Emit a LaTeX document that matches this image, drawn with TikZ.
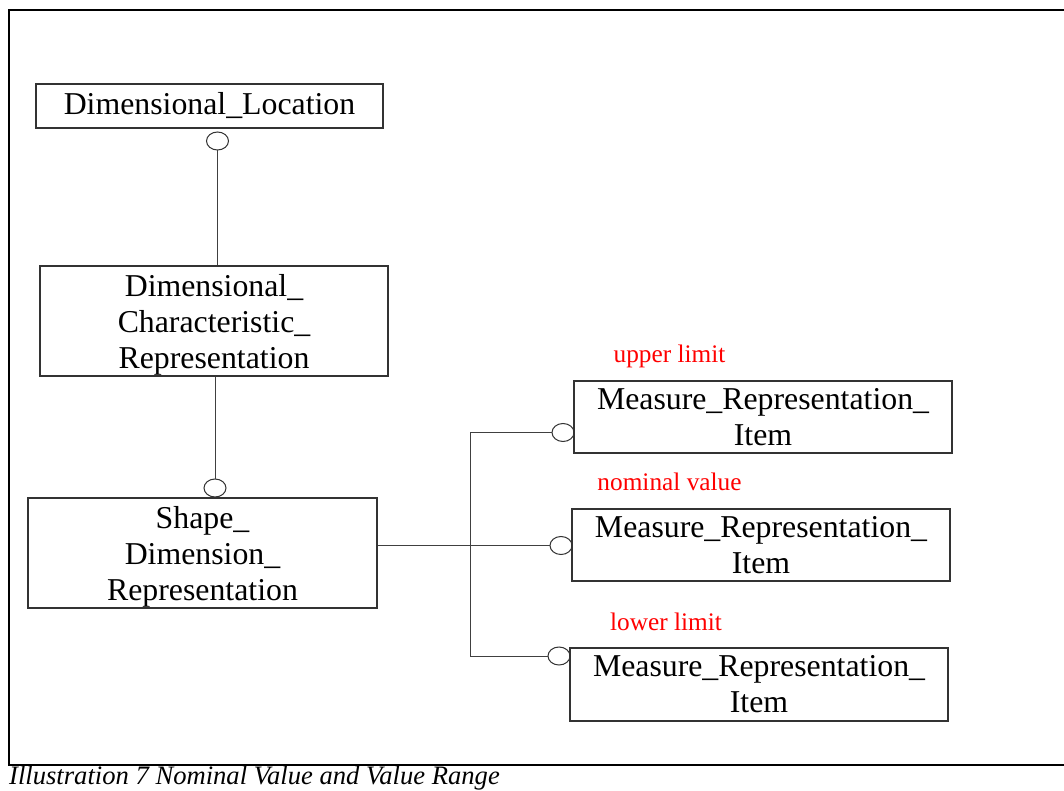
\documentclass[tikz,border=0pt]{standalone}
\usepackage{fontspec}
\setmainfont{Liberation Serif}
\usetikzlibrary{shapes.geometric}

\begin{document}
\begin{tikzpicture}[x=1pt, y=-1pt,
    entity/.style={draw=black!80, line width=1.1pt, align=center, inner sep=0pt, font=\fontsize{31.8}{36}\selectfont},
    opt/.style={draw=black!80, line width=1pt, ellipse, minimum width=22pt, minimum height=18pt, inner sep=0pt},
    link/.style={draw=black!75, line width=1pt},
    rolelbl/.style={text=red, anchor=base, inner sep=0pt, font=\fontsize{25.3}{30}\selectfont}]
    \useasboundingbox (0,0) rectangle (1064,791);
    \clip (0,0) rectangle (1064,791);
    \draw[black, line width=1.6pt] (1070,10) -- (9,10) -- (9,765) -- (1070,765);

    \node[entity, minimum width=347pt, minimum height=44pt] (loc) at (209.5,106) {Dimensional\_Location};
    \node[entity, text depth=0pt, minimum width=348pt, minimum height=110pt] (dcr) at (214,321) {Dimensional\_\\Characteristic\_\\Representation};
    \node[entity, text depth=0pt, minimum width=349pt, minimum height=110pt] (sdr) at (202.5,553) {Shape\_\\Dimension\_\\Representation};
    \node[entity, minimum width=378pt, minimum height=72pt] (mri1) at (763,417) {Measure\_Representation\_\\Item};
    \node[entity, minimum width=378pt, minimum height=72pt] (mri2) at (761,545) {Measure\_Representation\_\\Item};
    \node[entity, minimum width=378pt, minimum height=73pt] (mri3) at (759,684.5) {Measure\_Representation\_\\Item};

    \node[opt] (o1) at (217.5,141) {};
    \node[opt] (o2) at (215,488) {};
    \node[opt] (o3) at (563,432.5) {};
    \node[opt] (o4) at (561,545.5) {};
    \node[opt] (o5) at (559,656) {};
    \coordinate (jb) at (470,656);

    \draw[link] (o1.south) -- (o1.south |- dcr.north);
    \draw[link] (o2.north) -- (o2.north |- dcr.south);
    \draw[link] (o4.west) -- (o4.west -| sdr.east);
    \draw[link] (o3.west) -| (jb) -- (o5.west);

    \node[rolelbl] (up) at (669.5,362) {upper limit};
    \node[rolelbl] (nom) at (669.5,490) {nominal value};
    \node[rolelbl] (low) at (666,630) {lower limit};

    \node[anchor=base west, inner sep=0pt, font=\itshape\fontsize{26.6}{30}\selectfont] (cap) at (9,784.5) {Illustration 7 Nominal Value and Value Range};
\end{tikzpicture}
\end{document}
